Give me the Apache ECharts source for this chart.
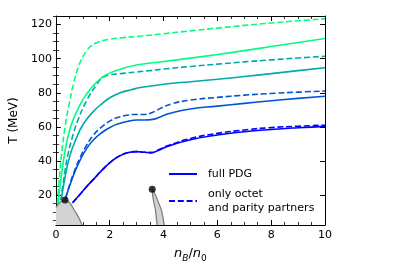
<!DOCTYPE html>
<html>
<head>
<meta charset="utf-8">
<script src="https://cdn.jsdelivr.net/npm/echarts@6/dist/echarts.min.js"></script>
<style>
html,body{margin:0;padding:0;background:#fff;}
#chart{width:407px;height:275px;}
</style>
</head>
<body>
<div id="chart"></div>
<script>
// ---- data (n_B/n_0, T in MeV) ----
const nB_full1 = [0.62, 0.9, 1.2, 1.5, 1.8, 2.1, 2.4, 2.7, 3.0, 3.3, 3.55, 3.8, 4.2, 5, 6, 7, 8, 9, 10];
const T_full1  = [15.5, 20.5, 26, 31, 36, 40.2, 43.3, 45, 45.5, 45.1, 44.9, 46.2, 48.8, 52.5, 55.3, 57.2, 58.5, 59.5, 60.3];
const nB_oct1  = [0.62, 0.9, 1.2, 1.5, 1.8, 2.1, 2.4, 2.7, 3.0, 3.3, 3.55, 3.8, 4.2, 5, 6, 7, 8, 9, 10];
const T_oct1   = [15.5, 20.5, 26, 31, 36, 40.2, 43.3, 45, 45.5, 45.1, 44.9, 46.4, 49.2, 53.2, 56.2, 58.2, 59.6, 60.4, 61];

const nB_full2 = [0.36, 0.5, 0.7, 0.9, 1.13, 1.4, 1.74, 2.05, 2.36, 2.7, 3.0, 3.3, 3.6, 3.9, 4.25, 5, 6, 7, 8, 9, 10];
const T_full2  = [18, 25, 33.5, 40.5, 47, 52.5, 57, 60, 62, 63.4, 64, 64, 64.4, 66, 68, 70.5, 72.2, 73.8, 75.3, 76.7, 78];
const nB_oct2  = [0.36, 0.5, 0.7, 0.9, 1.13, 1.4, 1.74, 2.05, 2.36, 2.7, 3.0, 3.3, 3.6, 3.9, 4.3, 5, 6, 7, 8, 9, 10];
const T_oct2   = [18, 25.5, 34.5, 42, 49, 55.3, 60.5, 63.8, 65.8, 67, 67.3, 67.3, 68.6, 71, 73.5, 75.7, 77.3, 78.6, 79.6, 80.4, 81];

const nB_full3 = [0.2, 0.3, 0.5, 0.75, 1.01, 1.38, 1.74, 2.05, 2.36, 2.8, 3.2, 4, 5, 6, 7, 8, 9, 10];
const T_full3  = [17, 27, 42, 53, 61.4, 68.8, 74, 77.5, 79.8, 81.8, 83.2, 85, 86.5, 87.9, 89.5, 91.2, 93, 94.7];
const nB_oct3  = [0.18, 0.3, 0.45, 0.65, 0.83, 1.13, 1.5, 1.75, 2.0, 2.4, 3.0, 3.5, 4, 5, 6, 7, 8, 9, 10];
const T_oct3   = [17, 30, 44, 56, 64.5, 75, 84.5, 89, 90.5, 91.2, 92.2, 93, 93.9, 95.4, 96.8, 98.1, 99.3, 100.4, 101.4];

const nB_full4 = [0.08, 0.2, 0.33, 0.46, 0.6, 0.76, 0.95, 1.13, 1.35, 1.6, 1.86, 2.36, 3.0, 4, 5, 6, 7, 8, 9, 10];
const T_full4  = [15, 31, 45, 55, 62.5, 68.5, 74.5, 79, 83.5, 87.5, 90.5, 93.7, 96.3, 98.3, 100.3, 102.4, 104.7, 107.1, 109.5, 111.8];
const nB_oct4  = [0.05, 0.12, 0.21, 0.34, 0.5, 0.65, 0.83, 1.0, 1.15, 1.3, 1.5, 1.75, 2.0, 2.5, 3.2, 4, 5, 6, 7, 8, 9, 10];
const T_oct4   = [15, 28, 43.7, 60, 74, 85, 95, 101, 104.8, 107.3, 109.2, 110.6, 111.4, 112.3, 113.3, 114.6, 116.3, 117.9, 119.5, 120.9, 122.2, 123.3];

// liquid-gas coexistence region and high-density sliver
const nB_dome = [0, 0.08, 0.16, 0.25, 0.34, 0.45, 0.56, 0.67, 0.76, 0.83, 0.9, 0.95, 0.98];
const T_dome  = [12.8, 14.5, 15.8, 16.8, 17.2, 16.5, 14.6, 11.6, 9.3, 7.4, 5.2, 3.2, 2.5];
const nB_sliverL = [3.58, 3.6, 3.65, 3.7, 3.76];
const T_sliverL  = [23.5, 19.2, 15, 11.4, 2.5];
const nB_sliverR = [3.58, 3.65, 3.72, 3.83, 3.92, 3.98, 4.02];
const T_sliverR  = [23.5, 21.5, 19.2, 15, 11.4, 7, 2.5];
const nB_crit = [0.34, 3.58];
const T_crit  = [17.2, 23.5];

const xTicks = [0, 2, 4, 6, 8, 10];
const yTicks = [20, 40, 60, 80, 100, 120];
const yMinorTicks = [5, 10, 15, 25, 30, 35, 45, 50, 55, 65, 70, 75, 85, 90, 95, 105, 110, 115, 125];

const seriesNames = ['full PDG', 'only octet\nand parity partners'];
const colors = ['#0000ff', '#0055d4', '#00aaaa', '#00ff80'];

// ---- build ----
const zip = (xs, ys) => xs.map((x, i) => [x, ys[i]]);
const X_MIN = 0, X_MAX = 10, Y_MIN = 2.5, Y_MAX = 125;
const FONT = 'DejaVu Sans';

const curves = [
  [nB_full1, T_full1, nB_oct1, T_oct1],
  [nB_full2, T_full2, nB_oct2, T_oct2],
  [nB_full3, T_full3, nB_oct3, T_oct3],
  [nB_full4, T_full4, nB_oct4, T_oct4]
];

const series = [];
curves.forEach((c, k) => {
  series.push({
    name: k === 0 ? seriesNames[0] : seriesNames[0] + ' ' + k,
    type: 'line', data: zip(c[0], c[1]), smooth: 0.5,
    symbol: 'none', showSymbol: false, z: 5,
    lineStyle: { color: colors[k], width: 1.6, type: 'solid' },
    itemStyle: { color: colors[k] }
  });
  series.push({
    name: k === 0 ? seriesNames[1] : seriesNames[1] + ' ' + k,
    type: 'line', data: zip(c[2], c[3]), smooth: 0.5,
    symbol: 'none', showSymbol: false, z: 4,
    lineStyle: { color: colors[k], width: 1.6, type: [6, 2.8] },
    itemStyle: { color: colors[k] }
  });
});

series.push({
  type: 'custom', name: 'regions', silent: true, z: 2,
  data: [0],
  renderItem: function (params, api) {
    const dome = zip(nB_dome, T_dome).map(p => api.coord(p));
    const domePoly = [api.coord([nB_dome[0], Y_MIN])].concat(dome, [api.coord([nB_dome[nB_dome.length - 1], Y_MIN])]);
    const sL = zip(nB_sliverL, T_sliverL).map(p => api.coord(p));
    const sR = zip(nB_sliverR, T_sliverR).map(p => api.coord(p));
    const sliverPoly = sL.concat(sR.slice().reverse());
    return {
      type: 'group',
      children: [
        { type: 'polygon', shape: { points: domePoly }, style: { fill: '#d3d3d3' } },
        { type: 'polyline', shape: { points: dome }, style: { stroke: '#808080', lineWidth: 1.3, fill: null } },
        { type: 'polygon', shape: { points: sliverPoly }, style: { fill: '#d3d3d3' } },
        { type: 'polyline', shape: { points: sL }, style: { stroke: '#808080', lineWidth: 1.3, fill: null } },
        { type: 'polyline', shape: { points: sR }, style: { stroke: '#808080', lineWidth: 1.3, fill: null } }
      ]
    };
  }
});

series.push({
  type: 'scatter', name: 'critical', data: zip(nB_crit, T_crit),
  symbolSize: 7, itemStyle: { color: '#000' }, z: 10, silent: true
});

const baseX = {
  type: 'value', min: X_MIN, max: X_MAX, interval: 2,
  axisLine: { show: true, lineStyle: { color: '#000', width: 1 } },
  axisTick: { show: true, inside: true, length: 5, lineStyle: { color: '#000', width: 1 } },
  minorTick: { show: true, splitNumber: 4, length: 3, lineStyle: { color: '#000', width: 0.8 } },
  splitLine: { show: false }, minorSplitLine: { show: false }
};

const yMajor = (pos, labels) => ({
  type: 'value', position: pos, min: Y_MIN, max: Y_MAX,
  axisLine: { show: true, onZero: false, lineStyle: { color: '#000', width: 1 } },
  axisTick: { show: true, inside: true, length: 5, customValues: yTicks, lineStyle: { color: '#000', width: 1 } },
  axisLabel: labels ? { show: true, customValues: yTicks, fontSize: 11, color: '#000', fontFamily: FONT, margin: 4 } : { show: false },
  splitLine: { show: false }
});
const yMinor = (pos) => ({
  type: 'value', position: pos, min: Y_MIN, max: Y_MAX,
  axisLine: { show: false },
  axisTick: { show: true, inside: true, length: 3, customValues: yMinorTicks, lineStyle: { color: '#000', width: 0.8 } },
  axisLabel: { show: false },
  splitLine: { show: false }
});

const yAxes = [yMajor('left', true), yMinor('left'), yMajor('right', false), yMinor('right')];
yAxes[0].name = 'T (MeV)';
yAxes[0].nameLocation = 'middle';
yAxes[0].nameGap = 20;
yAxes[0].nameTextStyle = { fontSize: 12, color: '#000', fontFamily: FONT };

const option = {
  animation: false,
  backgroundColor: '#fff',
  grid: { left: 52, right: 82, top: 16, bottom: 50 },
  xAxis: [
    Object.assign({}, baseX, {
      position: 'bottom',
      axisLabel: { show: true, fontSize: 11, color: '#000', fontFamily: FONT, margin: 5,
        customValues: xTicks },
      name: '{i|n}{s|B}{u|/}{i|n}{t|0}',
      nameLocation: 'middle', nameGap: 20,
      nameTextStyle: {
        color: '#000', fontFamily: FONT,
        rich: {
          i: { fontSize: 13, fontStyle: 'italic', fontFamily: FONT, lineHeight: 18, verticalAlign: 'middle', color: '#000' },
          u: { fontSize: 13, fontFamily: FONT, lineHeight: 18, verticalAlign: 'middle', color: '#000' },
          s: { fontSize: 9, fontStyle: 'italic', fontFamily: FONT, lineHeight: 18, verticalAlign: 'bottom', color: '#000' },
          t: { fontSize: 9, fontFamily: FONT, lineHeight: 18, verticalAlign: 'bottom', color: '#000' }
        }
      }
    }),
    Object.assign({}, baseX, { position: 'top', axisLabel: { show: false } })
  ],
  yAxis: yAxes,
  legend: {
    data: seriesNames,
    orient: 'vertical',
    left: 168, top: 167, padding: 0,
    itemWidth: 28, itemHeight: 14, itemGap: 6,
    itemStyle: { color: 'transparent', borderColor: 'transparent', borderWidth: 0 },
    textStyle: { fontSize: 11, color: '#000', fontFamily: FONT, lineHeight: 14, padding: [0, 0, 0, 6] }
  },
  series: series
};

const chart = echarts.init(document.getElementById('chart'), null, { renderer: 'canvas' });
chart.setOption(option);
</script>
</body>
</html>
